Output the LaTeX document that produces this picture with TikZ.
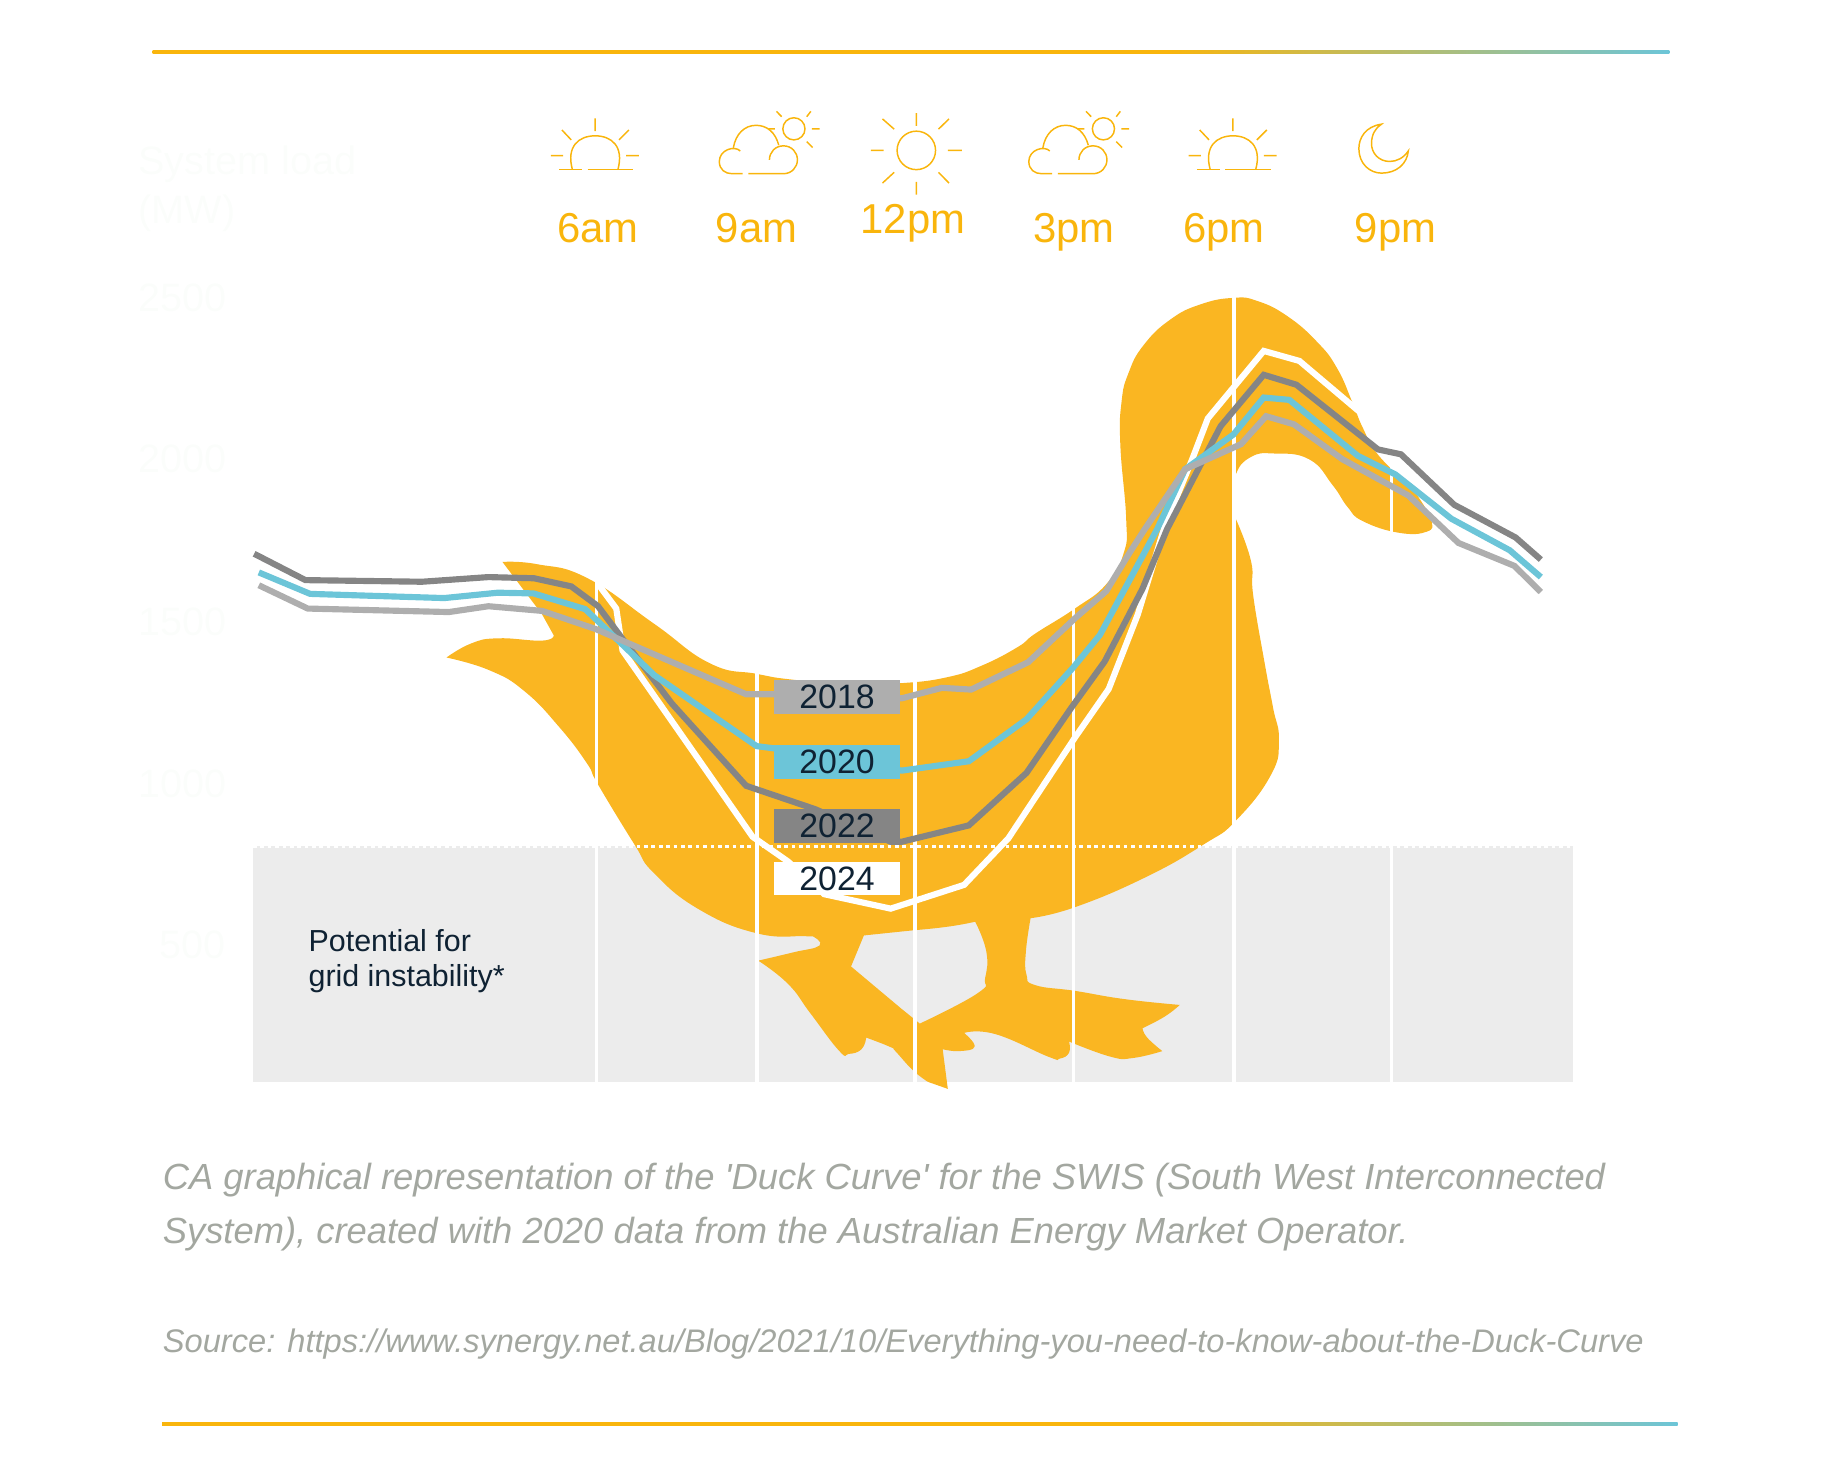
\documentclass[tikz,border=0pt]{standalone}
\usepackage{fontspec}
\setmainfont{Liberation Sans}
\newfontfamily\capfont{Liberation Sans}
\definecolor{duck}{HTML}{FAB622}
\definecolor{amber}{HTML}{F9B50C}
\definecolor{teal}{HTML}{6CC5D8}
\definecolor{darkg}{HTML}{858585}
\definecolor{lightg}{HTML}{AEAEAE}
\definecolor{band}{HTML}{ECECEC}
\definecolor{navy}{HTML}{0F2233}
\definecolor{capt}{HTML}{A3A7A0}
\definecolor{ghost}{HTML}{FBFDFB}
\pgfdeclarehorizontalshading{ruletop}{100bp}{color(0bp)=(amber); color(58.4bp)=(amber); color(75bp)=(teal); color(100bp)=(teal)}
\tikzset{
  curve/.style={line width=1.5pt,miter limit=4},
  tick/.style={draw=amber,line width=0.36pt},
  timelab/.style={text=amber,anchor=base,inner sep=0pt,font=\fontsize{10.2}{12}\selectfont},
  yearbox/.style={minimum width=108*0.2845pt,minimum height=29*0.2845pt,inner sep=0pt,text=navy,font=\fontsize{8.25}{10}\selectfont},
  ghosttext/.style={text=ghost,anchor=base west,inner sep=0pt,font=\fontsize{9.67}{12}\selectfont},
  caption/.style={text=capt,anchor=base west,inner sep=0pt,font=\capfont\fontsize{8.87}{11}\itshape\selectfont},
  sm/.style={smooth,tension=.8},
  pics/sunrise/.style={code={
    \draw[tick] (-31,12) -- (-11,12) (-6.5,12) -- (32.5,12);
    \draw[tick] (-19.5,12) .. controls (-25,-8) and (-14,-17) .. (0,-17) .. controls (14,-17) and (25,-8) .. (19.5,12);
    \draw[tick] (0,-32) -- (0,-21) (-28.5,-22) -- (-20.5,-13.5) (29,-22) -- (20.5,-13.5) (-38,0) -- (-27.5,0) (26.5,0) -- (37.5,0);
  }},
  pics/cloudsun/.style={code={
    \draw[tick] (633,129) .. controls (628,124) and (615,128) .. (615,138) .. controls (615,145) and (620,148.5) .. (626,148.5) -- (635,148.5);
    \draw[tick] (640,148.5) -- (670,148.5) .. controls (677,148.5) and (682,143) .. (682,136.6) .. controls (682,130) and (677,124.6) .. (670,124.6) .. controls (663,124.6) and (658,130) .. (658,136.6);
    \draw[tick] (627,126.6) .. controls (629,114) and (637,107) .. (646.5,107) .. controls (656,107) and (663,113) .. (666,124);
    \draw[tick] (679,110) circle[radius=9.5];
    \draw[tick] (664,95) -- (668.5,99.6) (693.5,95) -- (690,99.6) (694.4,110) -- (701,110) (690,121) -- (695,126) (657,110) -- (662.6,110);
  }}
}
\begin{document}
\begin{tikzpicture}[x=0.01cm,y=-0.01cm]
\useasboundingbox (0,0) rectangle (1568,1254);
% rules
\shade[shading=ruletop] (131,43) rectangle (1432,45.6);
\shade[shading=ruletop] (139,1220.2) rectangle (1439,1222.8);
% ghost axis
\node[ghosttext] (axis1) at (118,150) {System load};
\node[ghosttext] (axis2) at (118,192) {(MW)};
\node[ghosttext] (y2500) at (118,267) {2500};
\node[ghosttext] (y2000) at (118,405) {2000};
\node[ghosttext] (y1500) at (118,545) {1500};
\node[ghosttext] (y1000) at (118,684) {1000};
\node[ghosttext] (y500) at (136,822) {500};
% icons
\path (510.5,133.5) pic {sunrise};
\path (1057.6,133.5) pic {sunrise};
\path (2,0.5) pic {cloudsun};
\path (267.5,0.5) pic {cloudsun};
\draw[tick] (786,129) circle[radius=16.5];
\draw[tick] (786,97) -- (786,108) (786,156) -- (786,167) (805,110.8) -- (814,102) (805,147.8) -- (814,157) (767,110.8) -- (757,102) (767,147.8) -- (757,157) (813,129) -- (825,129) (747,129) -- (758,129);
\draw[tick,shift={(1,0.5)}] (1184,106) .. controls (1170,108) and (1164.6,118) .. (1164.6,127) .. controls (1164.6,140) and (1174,148) .. (1184,148) .. controls (1197,148) and (1206,140) .. (1207,129) .. controls (1203,135) and (1197,138) .. (1191,138) .. controls (1182,138) and (1175,131) .. (1175.5,122) .. controls (1175.5,115) and (1179,109) .. (1184,106) -- cycle;
% time labels
\node[timelab] (t6am) at (513,208) {6am};
\node[timelab] (t9am) at (649,208) {9am};
\node[timelab] (t12pm) at (783,200.5) {12pm};
\node[timelab] (t3pm) at (921,208) {3pm};
\node[timelab] (t6pm) at (1050,208) {6pm};
\node[timelab] (t9pm) at (1197,208) {9pm};
% band
\fill[band] (217,726) rectangle (1349,928);
% duck
\fill[duck,even odd rule]
  plot[sm] coordinates {(431,482) (461,484) (504,496) (561,535) (609,569) (649,578) (680,583) (730,587) (773,586) (812,581) (842,571) (873,555) (888,543.5) (922,522) (949,501) (964,474) (966,445) (961,382) (962,345) (968,320) (981,296) (1004,274) (1030,261) (1058,255.5) (1078,258) (1104,271) (1130,293.5) (1147,316) (1160,345) (1169,367) (1182,390) (1208,416) (1221,433) (1228,447) (1224,456) (1200,457) (1169,447) (1156,435) (1143,416) (1123,394) (1093,389) (1073,392) (1060,407) (1057,430) (1060,445)}
  -- plot[sm] coordinates {(1060,445) (1073,481) (1075,511) (1085,570) (1092,607) (1097,635) (1090,665) (1060,704) (1033,724) (983.6,752) (922.5,778) (884,787.6)}
  -- plot[sm] coordinates {(884,787.6) (880,816) (880.5,836) (888,845) (922.5,850) (964.5,857) (1012,862)}
  -- plot[sm] coordinates {(1012,862) (999,872) (980,882)}
  -- plot[sm] coordinates {(980,882) (984,890) (997,901.6)}
  -- plot[sm] coordinates {(997,901.6) (972,907.5) (953,906.5) (917,893.4)}
  -- plot[sm] coordinates {(917,893.4) (917,903) (909,908) (899.5,906.5) (853.7,887) (827,886)}
  -- plot[sm] coordinates {(827,886) (836,897.7) (823,901.6) (808.6,900)}
  -- (813,934) -- (796,928)
  -- plot[sm] coordinates {(796,928) (783,918) (768,901.6) (763.5,898) (743,890)}
  -- plot[sm] coordinates {(743,890) (739,900) (728,904) (720,901.6) (695,869) (676,844) (650.4,824)}
  -- plot[sm] coordinates {(650.4,824) (680,817) (703,811) (697,803)}
  -- plot[sm] coordinates {(697,803) (690,803) (649,800.5) (599.5,780) (561,749) (544,724) (513,673) (503.6,655) (480,624) (450,593) (420,575) (383,564)}
  -- plot[sm] coordinates {(383,564) (404,552) (427,547.5) (465,549.5) (475,545)}
  -- (465,527) -- (431,482)
  -- cycle
  (741,802.4) -- (730,829) -- (773.5,865.5) -- (789,878)
  -- plot[sm] coordinates {(789,878) (838.5,852) (845,839) (846,816) (836.5,790.6)}
  -- plot[sm] coordinates {(836.5,790.6) (812,795) (773.5,799) (741,802.4)} -- cycle;
% grid
\foreach \gx in {511.5,649.5,785,921,1058.5,1193.5} \draw[white,line width=0.85pt] (\gx,250) -- (\gx,928);
\draw[white,line width=0.8pt,dash pattern=on 0.9pt off 0.9pt] (217,726) -- (1349,726);
% curves
\draw[curve,white] (513,501) -- (528.6,522) -- (534,558) -- (645.5,717.7) -- (676,739) -- (707,767) -- (764,779.4) -- (827,759) -- (865,719) -- (922.5,632) -- (951,591) -- (976,527) -- (999,451.6) -- (1023,393) -- (1036,359) -- (1084,301) -- (1114.6,309.6) -- (1164.7,352) -- (1212,381);
\draw[curve,darkg] (218,475) -- (262,497.6) -- (362,499) -- (419,495) -- (458,496) -- (490,503) -- (513,520) -- (534,548) -- (576.5,603.7) -- (640,674) -- (699,694) -- (764,722) -- (773.5,722) -- (831,708) -- (880.5,663) -- (919,607) -- (947.5,567.5) -- (980,505) -- (1001,454) -- (1047,365.6) -- (1084,321.5) -- (1112,330) -- (1182,385.5) -- (1201.7,389.7) -- (1247.4,433) -- (1300,461) -- (1321.7,480);
\draw[curve,teal] (222,491) -- (266,509.4) -- (381,513) -- (427,508.4) -- (457.6,509) -- (502,522.5) -- (534,553) -- (561,579) -- (649,640) -- (664.6,642) -- (773.5,661) -- (831,653) -- (880.5,617) -- (920.6,572.5) -- (943.5,544.6) -- (992.6,453.8) -- (1016.6,402.5) -- (1058,372.7) -- (1084,341) -- (1106,343) -- (1164.7,391) -- (1197,407) -- (1245,445) -- (1295,472) -- (1321.7,495);
\draw[curve,lightg] (222,502) -- (264,522) -- (385,525) -- (419,520) -- (465,524) -- (511,539.6) -- (640,595.5) -- (664.6,595.5) -- (773.5,599) -- (808,590) -- (833,591.5) -- (882,568) -- (922.5,530) -- (949,507) -- (968,475.6) -- (982,453.8) -- (1016.6,402.5) -- (1064.5,381) -- (1086,357) -- (1110,364) -- (1151.6,394) -- (1208,425) -- (1251,465.7) -- (1299,485.4) -- (1321.7,507.8);
% year labels
\node[yearbox,fill=lightg] (y18) at (718,598) {2018};
\node[yearbox,fill=teal] (y20) at (718,653.5) {2020};
\node[yearbox,fill=darkg] (y22) at (718,708.5) {2022};
\node[yearbox,fill=white] (y24) at (718,753.5) {2024};
% band label
\node[anchor=base west,inner sep=0pt,text=navy,font=\fontsize{7.42}{8.54}\selectfont] (l1) at (264,816) {Potential for};
\node[anchor=base west,inner sep=0pt,text=navy,font=\fontsize{7.42}{8.54}\selectfont] (l2) at (264,846) {grid instability*};
% caption
\node[caption] (c1) at (139,1020.5) {CA graphical representation of the 'Duck Curve' for the SWIS (South West Interconnected};
\node[caption] (c2) at (139,1066.5) {System), created with 2020 data from the Australian Energy Market Operator.};
\node[caption,font=\capfont\fontsize{7.96}{9}\itshape\selectfont] (c3) at (139,1160) {Source: https://www.synergy.net.au/Blog/2021/10/Everything-you-need-to-know-about-the-Duck-Curve};
\end{tikzpicture}
\end{document}
